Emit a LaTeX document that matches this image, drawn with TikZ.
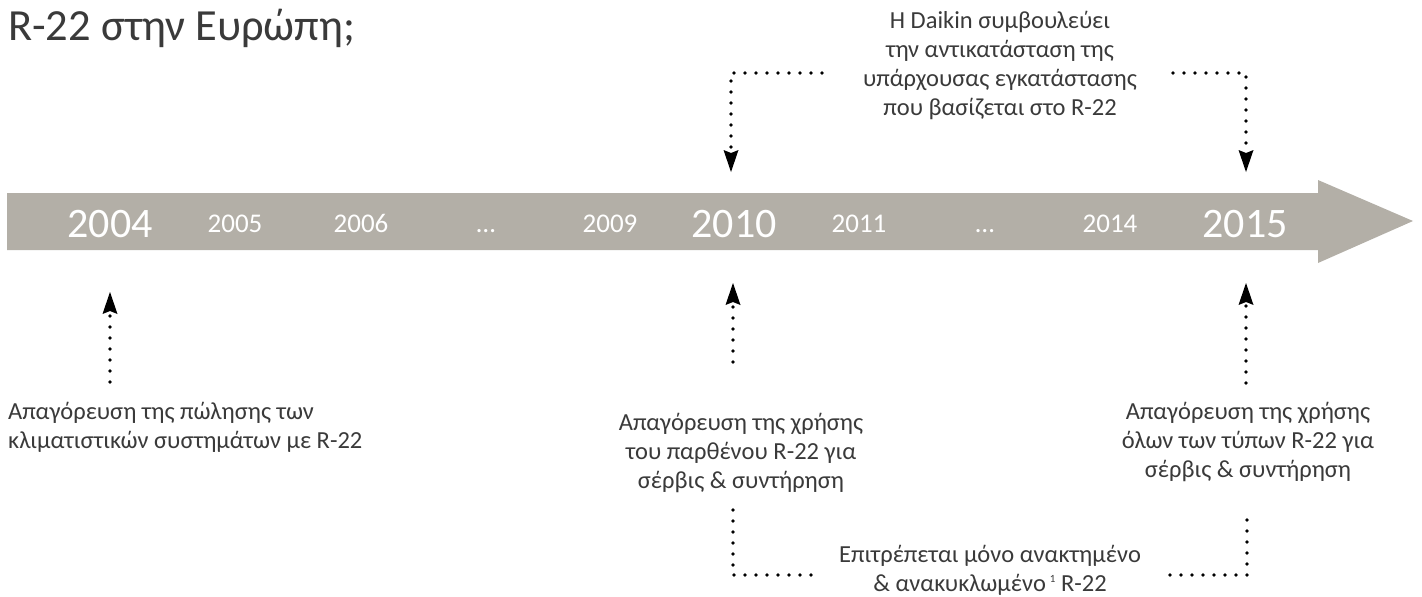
\documentclass[tikz,border=0pt]{standalone}
\usepackage{fontspec}
\setmainfont{Carlito}
\usetikzlibrary{arrows.meta}
\definecolor{band}{HTML}{B3AFA7}
\definecolor{ink}{HTML}{3A3A3A}
\begin{document}
\begin{tikzpicture}[x=1pt,y=-1pt,
  dots/.style={draw=black, line width=3.6pt, line cap=round, dash pattern=on 0pt off 11pt},
  tipped/.style={-{Stealth[length=22pt,width=15pt,inset=3pt,line width=0pt]}},
  bigyear/.style={text=white, font=\fontsize{42}{42}\selectfont, anchor=base, inner sep=0pt},
  smallyear/.style={text=white, font=\fontsize{27}{27}\selectfont, anchor=base, inner sep=0pt},
  lbl/.style={text=ink, font=\fontsize{24.5}{29}\selectfont, align=center, inner sep=0pt},
]
\useasboundingbox (0,0) rectangle (1422,597);

% title
\node[text=ink, font=\fontsize{44.5}{44.5}\selectfont, anchor=base west, inner sep=0pt] (title) at (8,40) {R-22 στην Ευρώπη;};

% timeline band
\fill[band] (7,193) -- (1318,193) -- (1318,180) -- (1413,221) -- (1318,263) -- (1318,250) -- (7,250) -- cycle;

% years
\node[bigyear] (y2004) at (110,237) {2004};
\node[smallyear] (y2005) at (235,232) {2005};
\node[smallyear] (y2006) at (361,232) {2006};
\node[smallyear] (dd1) at (486,232) {…};
\node[smallyear] (y2009) at (610,232) {2009};
\node[bigyear] (y2010) at (734,237) {2010};
\node[smallyear] (y2011) at (859,232) {2011};
\node[smallyear] (dd2) at (985,232) {…};
\node[smallyear] (y2014) at (1110,232) {2014};
\node[bigyear] (y2015) at (1245,237) {2015};

% labels
\node[lbl, align=left, anchor=north west] (t2004) at (8,402)
  {Απαγόρευση της πώλησης των\\κλιματιστικών συστημάτων με R-22};
\node[lbl, anchor=north] (t2010) at (741,413)
  {Απαγόρευση της χρήσης\\του παρθένου R-22 για\\σέρβις \& συντήρηση};
\node[lbl, anchor=north] (t2015) at (1248,402)
  {Απαγόρευση της χρήσης\\όλων των τύπων R-22 για\\σέρβις \& συντήρηση};
\node[lbl, anchor=north] (tdaikin) at (1000,11)
  {Η Daikin συμβουλεύει\\την αντικατάσταση της\\υπάρχουσας εγκατάστασης\\που βασίζεται στο R-22};
\node[lbl, anchor=north] (trecyc) at (990,545)
  {Επιτρέπεται μόνο ανακτημένο\\\& ανακυκλωμένο\,\raisebox{0.75ex}{\fontsize{11}{11}\selectfont 1} R-22};

% anchor points of connectors
\coordinate (a2004) at (110,292);
\coordinate (s2004) at (110,382);
\coordinate (a2010) at (733,283);
\coordinate (s2010) at (733,362);
\coordinate (a2015) at (1246,283);
\coordinate (s2015) at (1246,383);
\coordinate (d2010) at (731,172);
\coordinate (d2015) at (1246,172);
\coordinate (tl) at (822,73);
\coordinate (tr) at (1173,73);
\coordinate (bl) at (822,575);
\coordinate (bls) at (733,510);
\coordinate (br) at (1170,575);
\coordinate (brs) at (1247,510);

% connectors
\draw[dots, tipped] (s2004) -- (a2004);
\draw[dots, tipped] (s2010) -- (a2010);
\draw[dots, tipped] (s2015) -- (a2015);
\draw[dots, tipped] (tl) -| (d2010);
\draw[dots, tipped] (tr) -| (d2015);
\draw[dots] (bls) |- (bl);
\draw[dots] (br) -| (brs);
\end{tikzpicture}
\end{document}
